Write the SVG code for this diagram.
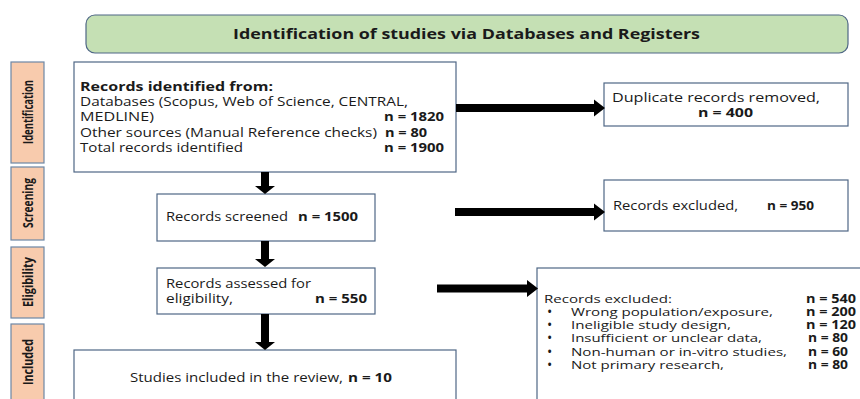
<svg xmlns="http://www.w3.org/2000/svg" width="860" height="399" viewBox="0 0 860 399">
<style>
  text { font-family: "Open Sans", "Liberation Sans", sans-serif; fill: #1a1a1a; }
  .t { font-size: 13px; }
  .s { font-size: 11.5px; }
  .b { font-weight: bold; }
  .phase rect { fill: #f8cbad; stroke: #6d87a6; stroke-width: 1.2; }
  .phase text { font-size: 14px; font-weight: bold; text-anchor: middle; }
  .box { fill: #ffffff; stroke: #4f6785; stroke-width: 1.2; }
  .bul { font-size: 14px; }
  .arrow { fill: #000000; }
</style>
<rect width="860" height="399" fill="#ffffff"/>

<g id="title">
  <rect x="86" y="15" width="762" height="38" rx="9" fill="#c5e0b4" stroke="#4f6785" stroke-width="1.2"/>
  <text x="233" y="39" class="b" style="font-size:15px" textLength="467" lengthAdjust="spacingAndGlyphs">Identification of studies via Databases and Registers</text>
</g>

<g id="phase-identification" class="phase">
  <rect x="11" y="62" width="33" height="101"/>
  <text transform="translate(33,112) rotate(-90)" textLength="64" lengthAdjust="spacingAndGlyphs">Identification</text>
</g>
<g id="phase-screening" class="phase">
  <rect x="11" y="167" width="33" height="73"/>
  <text transform="translate(33,203) rotate(-90)" textLength="50" lengthAdjust="spacingAndGlyphs">Screening</text>
</g>
<g id="phase-eligibility" class="phase">
  <rect x="11" y="247" width="33" height="71"/>
  <text transform="translate(33,282) rotate(-90)" textLength="50" lengthAdjust="spacingAndGlyphs">Eligibility</text>
</g>
<g id="phase-included" class="phase">
  <rect x="11" y="324" width="33" height="90"/>
  <text transform="translate(33,362) rotate(-90)" textLength="46" lengthAdjust="spacingAndGlyphs">Included</text>
</g>

<g id="identified">
  <rect class="box" x="74" y="62" width="382" height="110"/>
  <text class="t b" x="80" y="91" textLength="193" lengthAdjust="spacingAndGlyphs">Records identified from:</text>
  <text class="t" x="80" y="106" textLength="328" lengthAdjust="spacingAndGlyphs">Databases (Scopus, Web of Science, CENTRAL,</text>
  <text class="t" x="80" y="121" textLength="74" lengthAdjust="spacingAndGlyphs">MEDLINE)</text>
  <text class="t b" x="384" y="121" textLength="60" lengthAdjust="spacingAndGlyphs">n = 1820</text>
  <text class="t" x="80" y="137" textLength="297" lengthAdjust="spacingAndGlyphs">Other sources (Manual Reference checks)</text>
  <text class="t b" x="385" y="137" textLength="42" lengthAdjust="spacingAndGlyphs">n = 80</text>
  <text class="t" x="80" y="152" textLength="163" lengthAdjust="spacingAndGlyphs">Total records identified</text>
  <text class="t b" x="384" y="152" textLength="60" lengthAdjust="spacingAndGlyphs">n = 1900</text>
</g>

<g id="duplicates">
  <rect class="box" x="604" y="83" width="244" height="43"/>
  <text class="t" x="612" y="102" textLength="208" lengthAdjust="spacingAndGlyphs">Duplicate records removed,</text>
  <text class="t b" x="698" y="117" textLength="55" lengthAdjust="spacingAndGlyphs">n = 400</text>
</g>

<g id="screened">
  <rect class="box" x="157" y="194" width="218" height="47"/>
  <text class="t" x="166" y="221" textLength="122" lengthAdjust="spacingAndGlyphs">Records screened</text>
  <text class="t b" x="298" y="221" textLength="60" lengthAdjust="spacingAndGlyphs">n = 1500</text>
</g>

<g id="excluded-screening">
  <rect class="box" x="604" y="180" width="244" height="51"/>
  <text class="t" x="613" y="210" textLength="125" lengthAdjust="spacingAndGlyphs">Records excluded,</text>
  <text class="t b" x="767" y="210" textLength="47" lengthAdjust="spacingAndGlyphs">n = 950</text>
</g>

<g id="eligibility">
  <rect class="box" x="157" y="268" width="218" height="46"/>
  <text class="t" x="166" y="288" textLength="145" lengthAdjust="spacingAndGlyphs">Records assessed for</text>
  <text class="t" x="166" y="303" textLength="67" lengthAdjust="spacingAndGlyphs">eligibility,</text>
  <text class="t b" x="315" y="303" textLength="52" lengthAdjust="spacingAndGlyphs">n = 550</text>
</g>

<g id="excluded-eligibility">
  <rect class="box" x="537" y="268" width="340" height="150"/>
  <text class="s" x="544" y="303" textLength="128" lengthAdjust="spacingAndGlyphs">Records excluded:</text>
  <text class="s b" x="806" y="303" textLength="50" lengthAdjust="spacingAndGlyphs">n = 540</text>
  <text class="bul" x="547" y="317">•</text>
  <text class="s" x="571" y="316" textLength="202" lengthAdjust="spacingAndGlyphs">Wrong population/exposure,</text>
  <text class="s b" x="806" y="316" textLength="50" lengthAdjust="spacingAndGlyphs">n = 200</text>
  <text class="bul" x="547" y="330">•</text>
  <text class="s" x="571" y="329" textLength="160" lengthAdjust="spacingAndGlyphs">Ineligible study design,</text>
  <text class="s b" x="806" y="329" textLength="50" lengthAdjust="spacingAndGlyphs">n = 120</text>
  <text class="bul" x="547" y="343">•</text>
  <text class="s" x="571" y="342" textLength="191" lengthAdjust="spacingAndGlyphs">Insufficient or unclear data,</text>
  <text class="s b" x="808" y="342" textLength="40" lengthAdjust="spacingAndGlyphs">n = 80</text>
  <text class="bul" x="547" y="357">•</text>
  <text class="s" x="571" y="356" textLength="216" lengthAdjust="spacingAndGlyphs">Non-human or in-vitro studies,</text>
  <text class="s b" x="808" y="356" textLength="40" lengthAdjust="spacingAndGlyphs">n = 60</text>
  <text class="bul" x="547" y="370">•</text>
  <text class="s" x="571" y="369" textLength="153" lengthAdjust="spacingAndGlyphs">Not primary research,</text>
  <text class="s b" x="808" y="369" textLength="40" lengthAdjust="spacingAndGlyphs">n = 80</text>
</g>

<g id="included">
  <rect class="box" x="74" y="350" width="382" height="70"/>
  <text class="t" x="130" y="382" textLength="213" lengthAdjust="spacingAndGlyphs">Studies included in the review,</text>
  <text class="t b" x="348" y="382" textLength="44" lengthAdjust="spacingAndGlyphs">n = 10</text>
</g>

<g id="connectors" class="arrow">
  <path d="M456,104 H594 V99.5 L605,108 L594,116.5 V112 H456 Z"/>
  <path d="M455,208 H594 V203.5 L605,212 L594,220.5 V216 H455 Z"/>
  <path d="M437,284.5 H527 V280 L538,288.5 L527,297 V292.5 H437 Z"/>
  <path d="M261,172 V186 H255 L265,194 L275,186 H269 V172 Z"/>
  <path d="M261,241 V259 H255 L265,267 L275,259 H269 V241 Z"/>
  <path d="M261,314 V342 H255 L265,350 L275,342 H269 V314 Z"/>
</g>
</svg>
